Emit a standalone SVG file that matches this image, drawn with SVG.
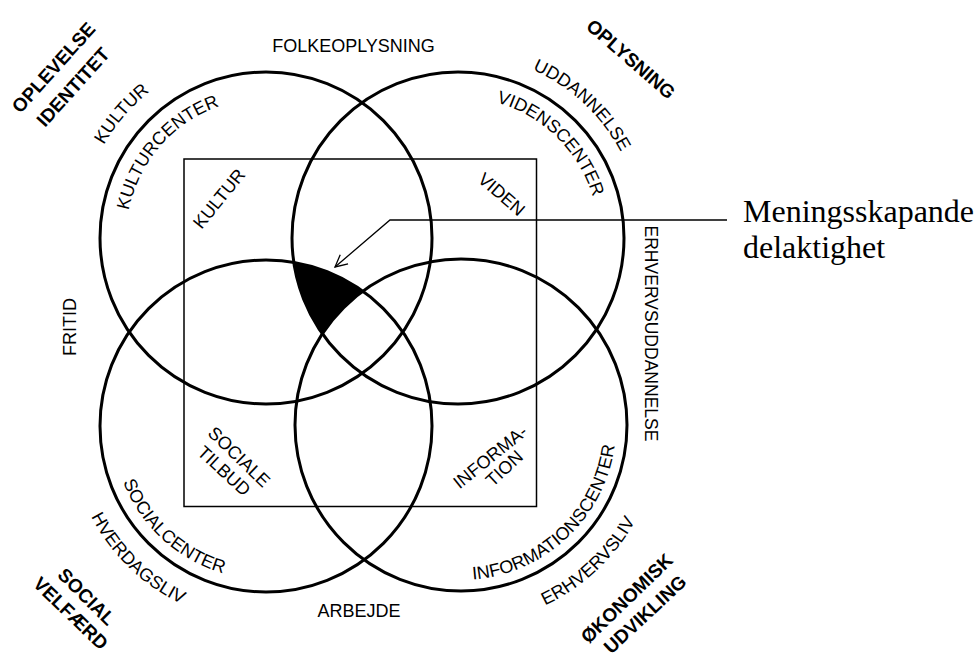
<svg xmlns="http://www.w3.org/2000/svg" width="976" height="657" viewBox="0 0 976 657">
<style>
.c{fill:none;stroke:#000;stroke-width:3}
.r{fill:none;stroke:#000;stroke-width:1.5}
.t{font-family:"Liberation Sans",Arial,sans-serif;font-size:18px;fill:#000}
.b{font-family:"Liberation Sans",Arial,sans-serif;font-size:19px;font-weight:bold;fill:#000}
.s{font-family:"Liberation Serif","Times New Roman",serif;font-size:32px;fill:#000}
.l{fill:none;stroke:#000;stroke-width:1.3}
</style>
<defs>
<marker id="arr" markerWidth="16" markerHeight="16" refX="14" refY="8" orient="auto" markerUnits="userSpaceOnUse">
<polyline points="2,2 14,8 2,14" fill="none" stroke="#000" stroke-width="1.3"/>
</marker>
<path id="pKulturcenter" d="M133.6,283.6 A140,140 0 0 1 292.7,100.6"/>
<path id="pKultur" d="M89.5,299.8 A187,187 0 0 1 300.7,54.3"/>
<path id="pVidenscenter" d="M420.1,102.2 A141,141 0 0 1 594.6,273.1"/>
<path id="pUddannelse" d="M404.2,62 A184,184 0 0 1 637.3,279.4"/>
<path id="pSocialcenter" d="M116.1,393 A153.5,153.5 0 0 0 312.4,572.3"/>
<path id="pHverdagsliv" d="M74.9,378.3 A197,197 0 0 0 320.3,615.4"/>
<path id="pInfocenter" d="M416.7,573.5 A155,155 0 0 0 611.8,389.1"/>
<path id="pErhvervsliv" d="M403.1,615.4 A199,199 0 0 0 654.8,379.9"/>
</defs>
<rect width="976" height="657" fill="#fff"/>

<g id="rect-center">
<rect class="r" x="184" y="159" width="352.5" height="347.5"/>
<text class="t" transform="translate(219,198.5) rotate(-50.8)" text-anchor="middle" dy="0.35em">KULTUR</text>
<text class="t" transform="translate(501.7,194.2) rotate(40.8)" text-anchor="middle" dy="0.35em">VIDEN</text>
<text class="t" transform="translate(239.2,456.7) rotate(44)" text-anchor="middle" dy="0.35em">SOCIALE</text>
<text class="t" transform="translate(224.2,470.8) rotate(42.6)" text-anchor="middle" dy="0.35em">TILBUD</text>
<text class="t" transform="translate(490,456.7) rotate(-39)" text-anchor="middle" dy="0.35em">INFORMA-</text>
<text class="t" transform="translate(504.2,468.3) rotate(-43)" text-anchor="middle" dy="0.35em">TION</text>
</g>

<g id="overlap">
<path d="M293.8,262.3 A166,166 0 0 1 362.8,291.2 A166,166 0 0 0 322.3,333.7 A166,166 0 0 1 293.8,262.3 Z" fill="#000"/>
</g>

<g id="circle-kultur">
<circle class="c" cx="266" cy="238" r="166"/>
<text class="t"><textPath href="#pKulturcenter" startOffset="50%" text-anchor="middle">KULTURCENTER</textPath></text>
<text class="t"><textPath href="#pKultur" startOffset="50%" text-anchor="middle">KULTUR</textPath></text>
</g>
<g id="circle-viden">
<circle class="c" cx="458" cy="238" r="166"/>
<text class="t"><textPath href="#pVidenscenter" startOffset="50%" text-anchor="middle">VIDENSCENTER</textPath></text>
<text class="t"><textPath href="#pUddannelse" startOffset="50%" text-anchor="middle">UDDANNELSE</textPath></text>
</g>
<g id="circle-social">
<circle class="c" cx="266" cy="426" r="166"/>
<text class="t"><textPath href="#pSocialcenter" startOffset="50%" text-anchor="middle">SOCIALCENTER</textPath></text>
<text class="t"><textPath href="#pHverdagsliv" startOffset="50%" text-anchor="middle">HVERDAGSLIV</textPath></text>
</g>
<g id="circle-information">
<circle class="c" cx="461" cy="425" r="166"/>
<text class="t"><textPath href="#pInfocenter" startOffset="50%" text-anchor="middle">INFORMATIONSCENTER</textPath></text>
<text class="t"><textPath href="#pErhvervsliv" startOffset="50%" text-anchor="middle">ERHVERVSLIV</textPath></text>
</g>

<g id="outer-labels">
<text class="t" x="353.5" y="52" text-anchor="middle">FOLKEOPLYSNING</text>
<text class="t" x="359" y="617" text-anchor="middle">ARBEJDE</text>
<text class="t" transform="translate(70,327) rotate(-90)" text-anchor="middle" dy="0.35em">FRITID</text>
<text class="t" transform="translate(651,333.5) rotate(90)" text-anchor="middle" dy="0.35em" textLength="216" lengthAdjust="spacingAndGlyphs">ERHVERVSUDDANNELSE</text>
</g>

<g id="corner-labels">
<text class="b" transform="translate(53.5,67.5) rotate(-48)" text-anchor="middle" dy="0.35em">OPLEVELSE</text>
<text class="b" transform="translate(73,87) rotate(-48)" text-anchor="middle" dy="0.35em">IDENTITET</text>
<text class="b" transform="translate(631,59) rotate(41)" text-anchor="middle" dy="0.35em">OPLYSNING</text>
<text class="b" transform="translate(86.7,596.7) rotate(45)" text-anchor="middle" dy="0.35em">SOCIAL</text>
<text class="b" transform="translate(70.8,613.3) rotate(44)" text-anchor="middle" dy="0.35em">VELFÆRD</text>
<text class="b" transform="translate(626.7,598.3) rotate(-44)" text-anchor="middle" dy="0.35em">ØKONOMISK</text>
<text class="b" transform="translate(645,614.2) rotate(-43)" text-anchor="middle" dy="0.35em">UDVIKLING</text>
</g>

<g id="connectors">
<polyline class="l" points="727,220 390,220 335,267" marker-end="url(#arr)"/>
</g>

<g id="caption">
<text class="s" x="743" y="222">Meningsskapande</text>
<text class="s" x="743" y="258">delaktighet</text>
</g>
</svg>
